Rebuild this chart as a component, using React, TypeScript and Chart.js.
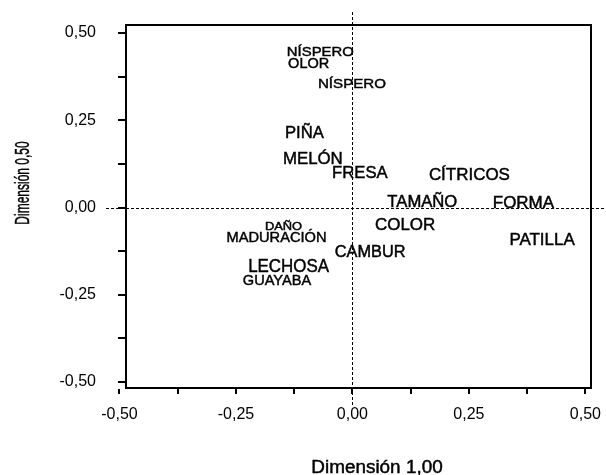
import React, { useEffect, useRef } from "react";
import { Chart, registerables } from "chart.js";

Chart.register(...registerables);

// ---- data ----
const pointLabels = [
  "NÍSPERO", "OLOR", "NÍSPERO", "PIÑA", "MELÓN", "FRESA", "CÍTRICOS", "TAMAÑO",
  "FORMA", "COLOR", "PATILLA", "CAMBUR", "DAÑO", "MADURACIÓN", "LECHOSA", "GUAYABA",
];
const dimension1 = [
  -0.069, -0.094, -0.001, -0.103, -0.085, 0.016, 0.251, 0.150,
  0.367, 0.113, 0.407, 0.038, -0.148, -0.163, -0.137, -0.162,
];
const dimension2 = [
  0.446, 0.411, 0.354, 0.211, 0.139, 0.097, 0.092, 0.014,
  0.010, -0.053, -0.095, -0.129, -0.054, -0.087, -0.169, -0.209,
];
const tickValues = [-0.5, -0.375, -0.25, -0.125, 0, 0.125, 0.25, 0.375, 0.5];
const labeledTicks = [-0.5, -0.25, 0, 0.25, 0.5];
const xTitle = "Dimensión 1,00";
const yTitle = "Dimensión 0,50";

// ---- styles ----
const FONT = '"Liberation Sans", Arial, sans-serif';
const labelFontPx = [13.5, 14.5, 13.5, 16.5, 16.5, 16.5, 16, 16, 16, 16, 16, 16, 11.5, 14.5, 18, 15.5];
const labelStretch = [1.1, 1.0, 1.12, 1.01, 1.02, 1.01, 1.06, 1.04, 1.06, 1.06, 1.06, 1.02, 1.12, 1.01, 0.94, 0.94];

const fmt = (v: number) => {
  const r = Math.round(v * 100) / 100;
  if (Math.abs(r) < 1e-9) return "0,00";
  return r.toFixed(2).replace(".", ",");
};

const drawText = (ctx: any, text: string) => {
  ctx.strokeText(text, 0, 0);
  ctx.fillText(text, 0, 0);
};

const overlay = {
  id: "overlay",
  beforeDraw(chart: any) {
    const { ctx } = chart;
    ctx.save();
    ctx.fillStyle = "#fff";
    ctx.fillRect(0, 0, chart.width, chart.height);
    ctx.restore();
  },
  afterDatasetsDraw(chart: any) {
    const { ctx, chartArea: a, scales } = chart;
    const x0 = Math.round(scales.x.getPixelForValue(0));
    const y0 = Math.round(scales.y.getPixelForValue(0));
    ctx.save();
    ctx.strokeStyle = "#000";
    // dashed reference lines
    ctx.lineWidth = 1;
    ctx.setLineDash([3, 2]);
    ctx.beginPath();
    ctx.moveTo(a.left - 20, y0 + 0.5);
    ctx.lineTo(chart.width, y0 + 0.5);
    ctx.moveTo(x0 + 0.5, a.top - 13);
    ctx.lineTo(x0 + 0.5, a.bottom + 17);
    ctx.stroke();
    ctx.setLineDash([]);
    // top and right frame
    ctx.lineWidth = 2;
    ctx.beginPath();
    ctx.moveTo(a.left, a.top);
    ctx.lineTo(a.right, a.top);
    ctx.lineTo(a.right, a.bottom);
    ctx.stroke();
    // point labels
    const meta = chart.getDatasetMeta(0);
    ctx.fillStyle = "#000";
    ctx.strokeStyle = "#000";
    ctx.lineWidth = 0.45;
    ctx.textAlign = "center";
    ctx.textBaseline = "middle";
    meta.data.forEach((el: any, i: number) => {
      ctx.save();
      ctx.translate(el.x, el.y);
      ctx.scale(labelStretch[i], 1);
      ctx.font = `${labelFontPx[i]}px ${FONT}`;
      drawText(ctx, pointLabels[i]);
      ctx.restore();
    });
    // axis titles
    ctx.save();
    ctx.translate(a.left + 251, a.bottom + 80);
    ctx.scale(1.05, 1);
    ctx.font = `18px ${FONT}`;
    drawText(ctx, xTitle);
    ctx.restore();
    ctx.save();
    ctx.translate(23, a.top + 158);
    ctx.rotate(-Math.PI / 2);
    ctx.scale(0.6, 1);
    ctx.font = `20px ${FONT}`;
    drawText(ctx, yTitle);
    ctx.restore();
    ctx.restore();
  },
};

export default function App() {
  const ref = useRef<HTMLCanvasElement | null>(null);
  useEffect(() => {
    if (!ref.current) return;
    const points = dimension1.map((x, i) => ({ x, y: dimension2[i] }));
    const tickCb = (v: any) => {
      const n = Number(v);
      return labeledTicks.some((t) => Math.abs(t - n) < 1e-6) ? fmt(n) : "";
    };
    const chart = new Chart(ref.current, {
      type: "scatter",
      data: {
        datasets: [
          {
            data: points,
            pointRadius: 0,
            pointHoverRadius: 0,
            showLine: false,
          },
        ],
      },
      options: {
        animation: false,
        responsive: false,
        devicePixelRatio: 1,
        events: [],
        layout: { padding: { top: 25, right: 15, left: 0, bottom: 0 } },
        plugins: { legend: { display: false }, tooltip: { enabled: false } },
        scales: {
          x: {
            type: "linear",
            min: -0.486,
            max: 0.512,
            afterFit: (s: any) => {
              s.height = 87;
              s.paddingLeft = 0;
              s.paddingRight = 0;
            },
            afterBuildTicks: (s: any) => {
              s.ticks = tickValues.map((value) => ({ value }));
            },
            ticks: {
              autoSkip: false,
              maxRotation: 0,
              color: "#000",
              padding: 11,
              font: { family: FONT, size: 16 },
              callback: tickCb,
            },
            grid: {
              drawOnChartArea: false,
              drawTicks: true,
              tickLength: 6,
              lineWidth: 2,
              color: "#000",
            },
            border: { display: true, color: "#000", width: 2 },
          },
          y: {
            type: "linear",
            min: -0.517,
            max: 0.523,
            afterFit: (s: any) => {
              s.width = 126;
              s.paddingTop = 0;
              s.paddingBottom = 0;
            },
            afterBuildTicks: (s: any) => {
              s.ticks = tickValues.map((value) => ({ value }));
            },
            ticks: {
              autoSkip: false,
              color: "#000",
              padding: 22,
              font: { family: FONT, size: 16 },
              callback: tickCb,
            },
            grid: {
              drawOnChartArea: false,
              drawTicks: true,
              tickLength: 8,
              lineWidth: 2,
              color: "#000",
            },
            border: { display: true, color: "#000", width: 2 },
          },
        },
      },
      plugins: [overlay],
    });
    return () => chart.destroy();
  }, []);
  return (
    <div style={{ position: "absolute", left: 0, top: 0, width: 606, height: 475 }}>
      <canvas ref={ref} width={606} height={475} style={{ display: "block" }} />
    </div>
  );
}
